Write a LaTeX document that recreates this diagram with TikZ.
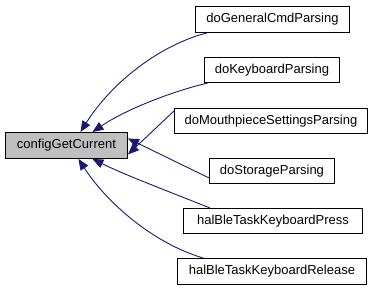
\documentclass[tikz,border=0pt]{standalone}
\usepackage{fontspec}
\setmainfont{Liberation Sans}
\usetikzlibrary{arrows.meta}
\definecolor{edgeblue}{HTML}{191970}
\definecolor{selfgray}{HTML}{BFBFBF}
\begin{document}
\begin{tikzpicture}[x=1pt,y=-1pt,
  fnbox/.style={draw=black, fill=white, line width=0.9pt, inner sep=0pt,
    font=\fontsize{13}{15}\selectfont, anchor=north west},
  calledge/.style={draw=edgeblue, line width=0.9pt,
    -{Triangle[length=11pt,width=9pt]}}]
\useasboundingbox (0,0) rectangle (375,291);
% the function whose callers are shown
\node[fnbox, fill=selfgray, minimum width=122pt, minimum height=26pt] (main) at (5,132) {configGetCurrent};
% callers
\node[fnbox, minimum width=154pt, minimum height=26pt] (gen) at (195,6) {doGeneralCmdParsing};
\node[fnbox, minimum width=135pt, minimum height=25pt] (kbd) at (204,57) {doKeyboardParsing};
\node[fnbox, minimum width=193pt, minimum height=25pt] (mouth) at (174,108) {doMouthpieceSettingsParsing};
\node[fnbox, minimum width=125pt, minimum height=25pt] (stor) at (209,158) {doStorageParsing};
\node[fnbox, minimum width=179pt, minimum height=25pt] (press) at (183,208) {halBleTaskKeyboardPress};
\node[fnbox, minimum width=189pt, minimum height=26pt] (rel) at (177,258) {halBleTaskKeyboardRelease};
% call edges
\draw[calledge] ([xshift=12pt]gen.south west) .. controls (160,45) and (112,82) .. ([xshift=14pt]main.north);
\draw[calledge] ([xshift=4pt]kbd.south west) .. controls (170,92) and (125,110) .. ([xshift=26pt]main.north);
\draw[calledge] ([yshift=10pt]mouth.west) -- ([yshift=-9pt]main.east);
\draw[calledge] ([yshift=-7pt]stor.west) -- ([yshift=7pt]main.east);
\draw[calledge] ([xshift=27pt]press.north west) .. controls (170,192) and (125,175) .. ([xshift=26pt]main.south);
\draw[calledge] ([xshift=26pt]rel.north west) .. controls (150,242) and (105,200) .. ([xshift=12pt]main.south);
\end{tikzpicture}
\end{document}
